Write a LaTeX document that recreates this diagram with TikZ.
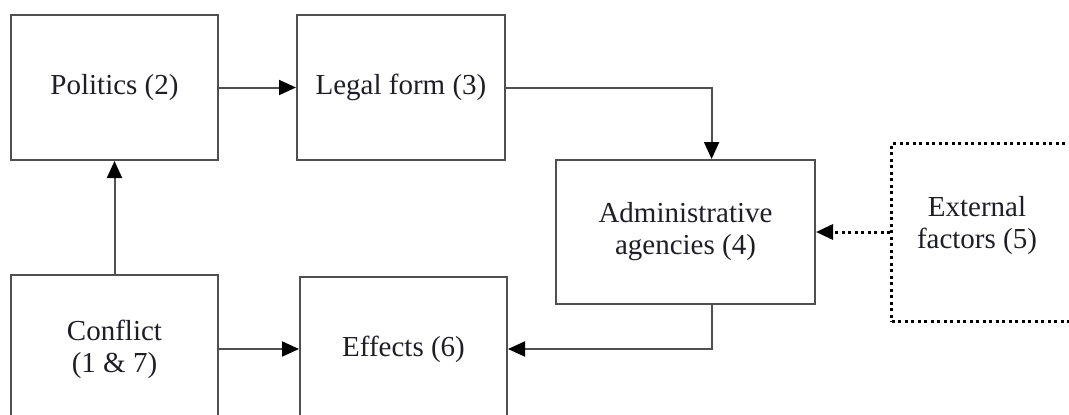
\documentclass[tikz,border=0pt]{standalone}
\usepackage{fontspec}
\setmainfont{Liberation Serif}
\usetikzlibrary{arrows.meta,calc}
\definecolor{boxgray}{HTML}{505050}
\definecolor{txt}{HTML}{1E1E28}
\begin{document}
\begin{tikzpicture}[x=1pt,y=-1pt,
 box/.style={draw=boxgray, line width=2pt, minimum width=207pt, minimum height=145pt, inner sep=0pt, align=center, font=\fontsize{29}{32}\selectfont, text=txt},
 conn/.style={draw=boxgray, line width=2pt, -{Triangle[length=17pt,width=15pt,color=black]}},
 dotconn/.style={draw=black, line width=3pt, dash pattern=on 3pt off 3.5pt, -{Triangle[length=17pt,width=15pt,color=black]}},
 dotbox/.style={draw=black, line width=3pt, dash pattern=on 3pt off 3.5pt, inner sep=0pt},
 lbl/.style={align=center, font=\fontsize{29}{32}\selectfont, text=txt},
]
\useasboundingbox (0,0) rectangle (1069,415);
\begin{scope}
\clip (0,0) rectangle (1069,415);
\node[box] (pol) at (114.5,87.5) {Politics (2)};
\node[box, minimum width=208pt] (leg) at (401,87.5) {Legal form (3)};
\node[box, minimum width=259pt, minimum height=144pt] (adm) at (685.5,232) {Administrative\\agencies (4)};
\node[box, minimum height=148pt] (con) at (114.5,349) {Conflict\\(1 \& 7)};
\node[box] (eff) at (403.5,349) {Effects (6)};
\node[dotbox, minimum width=300pt, minimum height=178pt, anchor=north west] (ext) at (890,142) {};
\node[lbl] (extt) at (977,226) {External\\factors (5)};
\draw[conn] (pol) -- (leg);
\draw[conn] (leg.east) -| ($(adm.north west)!0.6!(adm.north east)$);
\draw[dotconn] (ext.west |- adm.east) -- (adm.east);
\draw[conn] ($(adm.south west)!0.6!(adm.south east)$) |- (eff.east);
\draw[conn] (con) -- (eff);
\draw[conn] (con.north) -- (pol.south);
\end{scope}
\end{tikzpicture}
\end{document}
